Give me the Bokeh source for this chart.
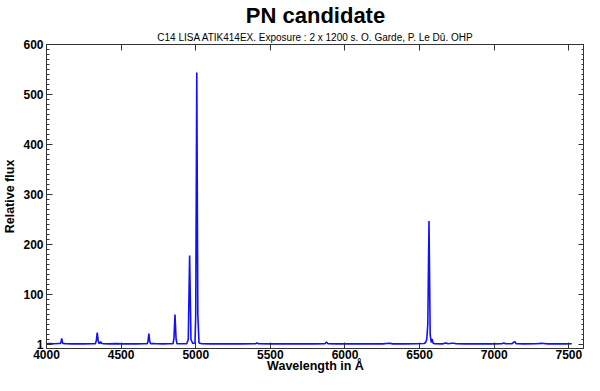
from bokeh.plotting import figure
from bokeh.models import Title, LinearAxis, FixedTicker, Range1d
from bokeh.embed import file_html
from bokeh.resources import INLINE

# ---- data ----
wavelength = [4000, 4020, 4050, 4080, 4094, 4098, 4102, 4106, 4110, 4130, 4170, 4200,
              4250, 4300, 4328, 4334, 4340, 4346, 4352, 4358, 4363, 4368, 4380, 4420,
              4471, 4500, 4550, 4600, 4650, 4675, 4680, 4686, 4692, 4698, 4711, 4740,
              4780, 4820, 4848, 4854, 4861, 4868, 4874, 4900, 4940, 4950, 4959, 4968,
              4980, 4995, 5000, 5007, 5014, 5022, 5040, 5100, 5200, 5300, 5400, 5411,
              5420, 5500, 5600, 5700, 5755, 5800, 5866, 5876, 5886, 5950, 6050, 6150,
              6250, 6300, 6312, 6320, 6400, 6480, 6530, 6540, 6548, 6555, 6563, 6571,
              6578, 6584, 6590, 6600, 6650, 6678, 6690, 6717, 6731, 6745, 6800, 6900,
              7000, 7050, 7065, 7075, 7120, 7136, 7148, 7200, 7280, 7320, 7330, 7360,
              7420, 7480, 7520]
flux = [1.6, 1.9, 1.5, 2.0, 2.2, 6.0, 12.0, 6.0, 2.2, 1.5, 1.2, 1.4,
        1.3, 1.5, 1.8, 8.0, 24.0, 8.0, 2.0, 2.5, 6.0, 2.5, 1.4, 1.2,
        1.8, 1.3, 1.2, 1.3, 1.4, 1.5, 6.0, 22.0, 6.0, 1.6, 2.0, 1.4,
        1.3, 1.4, 1.6, 12.0, 60.0, 12.0, 1.8, 1.5, 1.8, 10.0, 178.0, 10.0,
        2.0, 3.0, 60.0, 544.0, 60.0, 3.0, 1.6, 1.3, 1.2, 1.3, 1.5, 3.0,
        1.4, 1.2, 1.3, 1.2, 1.5, 1.3, 1.6, 5.0, 1.5, 1.2, 1.2, 1.3,
        1.3, 2.5, 1.8, 1.2, 1.3, 1.4, 2.0, 4.0, 10.0, 40.0, 247.0, 20.0,
        4.0, 11.0, 3.0, 1.5, 1.3, 3.0, 1.6, 2.5, 2.5, 1.4, 1.2, 1.3,
        1.2, 1.4, 3.0, 1.4, 1.6, 6.0, 1.5, 1.3, 1.4, 2.2, 2.0, 1.3,
        1.3, 1.2, 1.4]

x_ticks = [4000, 4500, 5000, 5500, 6000, 6500, 7000, 7500]
y_ticks = [1, 100, 200, 300, 400, 500, 600]
y_minor = [v for v in range(10, 600, 10) if v % 100 != 0]

title_text = "PN candidate"
subtitle_text = "C14 LISA ATIK414EX. Exposure : 2 x 1200 s. O. Garde, P. Le D\u00fb. OHP"
x_label = "Wavelength in \u00c5"
y_label = "Relative flux"
FONT = "Liberation Sans"
AX = "#333333"

p = figure(width=584, height=375, output_backend="svg", toolbar_location=None,
           x_range=Range1d(4000, 7605), y_range=Range1d(-8, 600),
           min_border_left=0, min_border_right=0, min_border_top=0, min_border_bottom=0,
           background_fill_color="white", border_fill_color="white")
p.outline_line_color = AX
p.xgrid.visible = False
p.ygrid.visible = False

p.line(wavelength, flux, line_color="#1010ff", line_width=1.6)

xa = p.xaxis[0]
xa.ticker = FixedTicker(ticks=x_ticks)
xa.axis_label = x_label
ya = p.yaxis[0]
ya.ticker = FixedTicker(ticks=y_ticks, minor_ticks=y_minor)
ya.axis_label = y_label

for ax in (xa, ya):
    ax.axis_line_color = AX
    ax.major_tick_line_color = AX
    ax.minor_tick_line_color = AX
    ax.major_tick_in = 6
    ax.major_tick_out = 0
    ax.minor_tick_in = 3
    ax.minor_tick_out = 0
    ax.major_label_text_font = FONT
    ax.major_label_text_font_style = "bold"
    ax.major_label_text_font_size = "12px"
    ax.major_label_text_color = "black"
    ax.axis_label_text_font = FONT
    ax.axis_label_text_font_style = "bold"
    ax.axis_label_text_font_size = "12.5px"
    ax.axis_label_text_color = "black"
    ax.major_label_standoff = 3
    ax.axis_label_standoff = 3
xa.minor_tick_line_color = None
xa.major_label_standoff = 1
xa.axis_label_standoff = -3

# mirrored top and right axes (ticks only)
top = LinearAxis(ticker=FixedTicker(ticks=x_ticks), major_label_text_font_size="1px",
                 major_label_text_color=None, axis_label_standoff=0,
                 major_tick_in=6, major_tick_out=0, minor_tick_line_color=None,
                 major_label_standoff=0, axis_line_color=AX, major_tick_line_color=AX)
right = LinearAxis(ticker=FixedTicker(ticks=y_ticks, minor_ticks=y_minor),
                   major_label_text_font_size="1px", major_label_text_color=None,
                   axis_label_standoff=0,
                   major_tick_in=6, major_tick_out=0, minor_tick_in=3, minor_tick_out=0,
                   major_label_standoff=0, axis_line_color=AX, major_tick_line_color=AX,
                   minor_tick_line_color=AX)
p.add_layout(top, "above")
p.add_layout(right, "right")

p.add_layout(Title(text=subtitle_text, align="center", text_font=FONT,
                   text_font_size="10px", text_font_style="normal",
                   text_color="black", standoff=4), "above")
p.add_layout(Title(text=title_text, align="center", text_font=FONT,
                   text_font_size="22px", text_font_style="bold",
                   text_color="black", standoff=0), "above")

open("out.html", "w").write(file_html(p, INLINE))
